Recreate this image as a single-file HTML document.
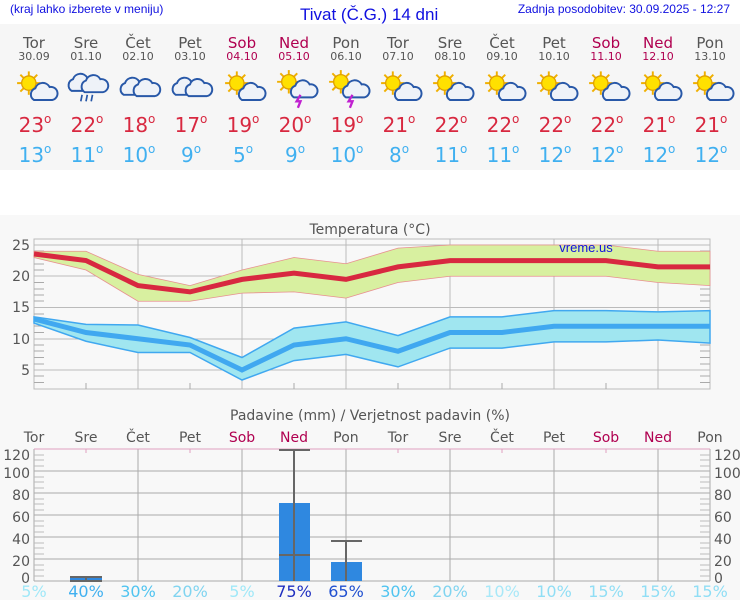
<!DOCTYPE html>
<html><head><meta charset="utf-8"><style>
body{margin:0;width:740px;height:600px;overflow:hidden;background:#fff;font-family:"DejaVu Sans","Liberation Sans",sans-serif}
</style></head><body>
<svg width="740" height="600" xmlns="http://www.w3.org/2000/svg" font-family="DejaVu Sans, Liberation Sans, sans-serif">
<defs>
<g id="sun"><g stroke="#f0b000" stroke-width="1.5"><line x1="-9" y1="0" x2="9" y2="0"/><line x1="0" y1="-9" x2="0" y2="9"/><line x1="-6.5" y1="-6.5" x2="6.5" y2="6.5"/><line x1="-6.5" y1="6.5" x2="6.5" y2="-6.5"/></g><circle r="5.5" fill="#ffe000" stroke="#e0a000"/></g>
<g id="cl"><path d="M-6 6 a5 5 0 0 1 1-9 a6 6 0 0 1 11-1 a5 5 0 0 1 2 10 z" fill="#eef2f8" stroke="#2858a8" stroke-width="1.5"/></g>
<g id="ps0"><use href="#sun" x="-4" y="-3"/><use href="#cl" x="6" y="4"/></g>
<g id="ps" transform="scale(1.3)"><use href="#ps0"/></g>
<g id="cc0"><use href="#cl" x="-5" y="0"/><use href="#cl" x="5" y="1"/></g>
<g id="cc" transform="scale(1.3)"><use href="#cc0"/></g>
<g id="ts" transform="scale(1.3)"><use href="#sun" x="-4" y="-4"/><use href="#cl" x="6" y="2"/><path d="M5 6 l-3 5 h3 l-2 5" stroke="#c020d0" stroke-width="1.8" fill="none"/></g>
<g id="rn" transform="scale(1.3)"><use href="#cc0" y="-3"/><g stroke="#2858a8" stroke-width="1.3"><line x1="-3" y1="6" x2="-4" y2="11"/><line x1="1" y1="6" x2="0" y2="11"/><line x1="5" y1="6" x2="4" y2="11"/></g></g>
</defs>
<rect x="0" y="24" width="740" height="146" fill="#f6f6f6"/>
<rect x="0" y="215" width="740" height="385" fill="#f8f8f8"/>
<text x="10" y="13" font-size="12" fill="#1010e0" font-family="Liberation Sans, sans-serif">(kraj lahko izberete v meniju)</text>
<text x="300" y="20" font-size="17" fill="#1010e0" font-family="Liberation Sans, sans-serif">Tivat (Č.G.) 14 dni</text>
<text x="730" y="13" font-size="12" fill="#1010e0" text-anchor="end" font-family="Liberation Sans, sans-serif">Zadnja posodobitev: 30.09.2025 - 12:27</text>
<g text-anchor="middle">
<g font-size="15" fill="#555">
<text x="34" y="48">Tor</text><text x="86" y="48">Sre</text><text x="138" y="48">Čet</text><text x="190" y="48">Pet</text><text x="242" y="48" fill="#b00050">Sob</text><text x="294" y="48" fill="#b00050">Ned</text><text x="346" y="48">Pon</text><text x="398" y="48">Tor</text><text x="450" y="48">Sre</text><text x="502" y="48">Čet</text><text x="554" y="48">Pet</text><text x="606" y="48" fill="#b00050">Sob</text><text x="658" y="48" fill="#b00050">Ned</text><text x="710" y="48">Pon</text>
</g>
<g font-size="11" fill="#555">
<text x="34" y="60">30.09</text><text x="86" y="60">01.10</text><text x="138" y="60">02.10</text><text x="190" y="60">03.10</text><text x="242" y="60" fill="#b00050">04.10</text><text x="294" y="60" fill="#b00050">05.10</text><text x="346" y="60">06.10</text><text x="398" y="60">07.10</text><text x="450" y="60">08.10</text><text x="502" y="60">09.10</text><text x="554" y="60">10.10</text><text x="606" y="60" fill="#b00050">11.10</text><text x="658" y="60" fill="#b00050">12.10</text><text x="710" y="60">13.10</text>
</g>
<g font-size="20" fill="#d82840">
<text x="35" y="132">23<tspan font-size="12" dy="-9">o</tspan></text><text x="87" y="132">22<tspan font-size="12" dy="-9">o</tspan></text><text x="139" y="132">18<tspan font-size="12" dy="-9">o</tspan></text><text x="191" y="132">17<tspan font-size="12" dy="-9">o</tspan></text><text x="243" y="132">19<tspan font-size="12" dy="-9">o</tspan></text><text x="295" y="132">20<tspan font-size="12" dy="-9">o</tspan></text><text x="347" y="132">19<tspan font-size="12" dy="-9">o</tspan></text><text x="399" y="132">21<tspan font-size="12" dy="-9">o</tspan></text><text x="451" y="132">22<tspan font-size="12" dy="-9">o</tspan></text><text x="503" y="132">22<tspan font-size="12" dy="-9">o</tspan></text><text x="555" y="132">22<tspan font-size="12" dy="-9">o</tspan></text><text x="607" y="132">22<tspan font-size="12" dy="-9">o</tspan></text><text x="659" y="132">21<tspan font-size="12" dy="-9">o</tspan></text><text x="711" y="132">21<tspan font-size="12" dy="-9">o</tspan></text>
</g>
<g font-size="20" fill="#40b0f0">
<text x="35" y="162">13<tspan font-size="12" dy="-9">o</tspan></text><text x="87" y="162">11<tspan font-size="12" dy="-9">o</tspan></text><text x="139" y="162">10<tspan font-size="12" dy="-9">o</tspan></text><text x="191" y="162">9<tspan font-size="12" dy="-9">o</tspan></text><text x="243" y="162">5<tspan font-size="12" dy="-9">o</tspan></text><text x="295" y="162">9<tspan font-size="12" dy="-9">o</tspan></text><text x="347" y="162">10<tspan font-size="12" dy="-9">o</tspan></text><text x="399" y="162">8<tspan font-size="12" dy="-9">o</tspan></text><text x="451" y="162">11<tspan font-size="12" dy="-9">o</tspan></text><text x="503" y="162">11<tspan font-size="12" dy="-9">o</tspan></text><text x="555" y="162">12<tspan font-size="12" dy="-9">o</tspan></text><text x="607" y="162">12<tspan font-size="12" dy="-9">o</tspan></text><text x="659" y="162">12<tspan font-size="12" dy="-9">o</tspan></text><text x="711" y="162">12<tspan font-size="12" dy="-9">o</tspan></text>
</g>
</g>
<g transform="translate(34,87)"><use href="#ps"/></g><g transform="translate(86,87)"><use href="#rn"/></g><g transform="translate(138,87)"><use href="#cc"/></g><g transform="translate(190,87)"><use href="#cc"/></g><g transform="translate(242,87)"><use href="#ps"/></g><g transform="translate(294,87)"><use href="#ts"/></g><g transform="translate(346,87)"><use href="#ts"/></g><g transform="translate(398,87)"><use href="#ps"/></g><g transform="translate(450,87)"><use href="#ps"/></g><g transform="translate(502,87)"><use href="#ps"/></g><g transform="translate(554,87)"><use href="#ps"/></g><g transform="translate(606,87)"><use href="#ps"/></g><g transform="translate(658,87)"><use href="#ps"/></g><g transform="translate(710,87)"><use href="#ps"/></g>

<!-- temperature chart -->
<text x="370" y="234" font-size="14" fill="#555" text-anchor="middle">Temperatura (°C)</text>
<g stroke="#bbb" stroke-width="1">
<line x1="34" y1="245" x2="710" y2="245"/><line x1="34" y1="276" x2="710" y2="276"/><line x1="34" y1="307.5" x2="710" y2="307.5"/><line x1="34" y1="339" x2="710" y2="339"/><line x1="34" y1="370" x2="710" y2="370"/>
<line x1="138" y1="239" x2="138" y2="389"/><line x1="242" y1="239" x2="242" y2="389"/><line x1="346" y1="239" x2="346" y2="389"/><line x1="450" y1="239" x2="450" y2="389"/><line x1="554" y1="239" x2="554" y2="389"/><line x1="658" y1="239" x2="658" y2="389"/>
</g>
<rect x="34" y="239" width="676" height="150" fill="none" stroke="#bbb"/>
<g stroke="#aaa">
<line x1="34" y1="251" x2="44" y2="251"/><line x1="34" y1="257.5" x2="44" y2="257.5"/><line x1="34" y1="264" x2="44" y2="264"/><line x1="34" y1="270" x2="44" y2="270"/><line x1="34" y1="282.5" x2="44" y2="282.5"/><line x1="34" y1="289" x2="44" y2="289"/><line x1="34" y1="295" x2="44" y2="295"/><line x1="34" y1="301" x2="44" y2="301"/><line x1="34" y1="314" x2="44" y2="314"/><line x1="34" y1="320" x2="44" y2="320"/><line x1="34" y1="326" x2="44" y2="326"/><line x1="34" y1="332.5" x2="44" y2="332.5"/><line x1="34" y1="345" x2="44" y2="345"/><line x1="34" y1="351" x2="44" y2="351"/><line x1="34" y1="357.5" x2="44" y2="357.5"/><line x1="34" y1="364" x2="44" y2="364"/><line x1="34" y1="376" x2="44" y2="376"/><line x1="34" y1="382.5" x2="44" y2="382.5"/>
<line x1="700" y1="251" x2="710" y2="251"/><line x1="700" y1="257.5" x2="710" y2="257.5"/><line x1="700" y1="264" x2="710" y2="264"/><line x1="700" y1="270" x2="710" y2="270"/><line x1="700" y1="282.5" x2="710" y2="282.5"/><line x1="700" y1="289" x2="710" y2="289"/><line x1="700" y1="295" x2="710" y2="295"/><line x1="700" y1="301" x2="710" y2="301"/><line x1="700" y1="314" x2="710" y2="314"/><line x1="700" y1="320" x2="710" y2="320"/><line x1="700" y1="326" x2="710" y2="326"/><line x1="700" y1="332.5" x2="710" y2="332.5"/><line x1="700" y1="345" x2="710" y2="345"/><line x1="700" y1="351" x2="710" y2="351"/><line x1="700" y1="357.5" x2="710" y2="357.5"/><line x1="700" y1="364" x2="710" y2="364"/><line x1="700" y1="376" x2="710" y2="376"/><line x1="700" y1="382.5" x2="710" y2="382.5"/>
<line x1="86" y1="383" x2="86" y2="389"/><line x1="190" y1="383" x2="190" y2="389"/><line x1="294" y1="383" x2="294" y2="389"/><line x1="398" y1="383" x2="398" y2="389"/><line x1="502" y1="383" x2="502" y2="389"/><line x1="606" y1="383" x2="606" y2="389"/>
</g>
<g font-size="14" fill="#555" text-anchor="end">
<text x="30" y="250">25</text><text x="30" y="281">20</text><text x="30" y="312">15</text><text x="30" y="344">10</text><text x="30" y="375">5</text>
</g>
<polygon fill="#d8f0a0" stroke="#e89090" stroke-width="0.8" points="34,251.25 86,251.25 138,274.4 190,285.6 242,270 294,257.5 346,263.75 398,248.1 450,245 502,245 554,245 606,245 658,251.25 710,251.25 710,285.6 658,282.5 606,276.25 554,276.25 502,276.25 450,276.25 398,282.5 346,298.1 294,291.9 242,293.1 190,301.25 138,301.25 86,270 34,257.5"/>
<polyline fill="none" stroke="#d82840" stroke-width="5" points="34,254 86,260.5 138,285.6 190,291.9 242,279.4 294,273.1 346,279.4 398,266.9 450,260.6 502,260.6 554,260.6 606,260.6 658,266.9 710,266.9"/>
<polygon fill="#a0e6f0" stroke="#40a8f0" stroke-width="1.5" points="34,316.9 86,324.4 138,325 190,337.5 242,357.5 294,328.1 346,321.9 398,335.6 450,316.9 502,316.9 554,310.6 606,310.6 658,311.9 710,310.6 710,343.1 658,340 606,341.9 554,341.9 502,348.1 450,348.1 398,366.9 346,354.4 294,360.6 242,380 190,352.5 138,352.5 86,341.25 34,323.1"/>
<polyline fill="none" stroke="#40a8f0" stroke-width="5" points="34,319 86,332.5 138,338.75 190,345 242,370 294,345 346,338.75 398,351.25 450,332.5 502,332.5 554,326.25 606,326.25 658,326.25 710,326.25"/>
<text x="586" y="252" font-size="13" fill="#1010e0" text-anchor="middle" font-family="Liberation Sans, sans-serif">vreme.us</text>

<!-- precipitation chart -->
<text x="370" y="420" font-size="14" fill="#555" text-anchor="middle">Padavine (mm) / Verjetnost padavin (%)</text>
<g font-size="14" fill="#555" text-anchor="middle">
<text x="34" y="442">Tor</text><text x="86" y="442">Sre</text><text x="138" y="442">Čet</text><text x="190" y="442">Pet</text><text x="242" y="442" fill="#b00050">Sob</text><text x="294" y="442" fill="#b00050">Ned</text><text x="346" y="442">Pon</text><text x="398" y="442">Tor</text><text x="450" y="442">Sre</text><text x="502" y="442">Čet</text><text x="554" y="442">Pet</text><text x="606" y="442" fill="#b00050">Sob</text><text x="658" y="442" fill="#b00050">Ned</text><text x="710" y="442">Pon</text>
</g>
<g stroke="#aaa">
<line x1="34" y1="471" x2="710" y2="471"/><line x1="34" y1="493" x2="710" y2="493"/><line x1="34" y1="515" x2="710" y2="515"/><line x1="34" y1="537" x2="710" y2="537"/><line x1="34" y1="559" x2="710" y2="559"/><line x1="34" y1="581" x2="710" y2="581"/>
<line x1="138" y1="449" x2="138" y2="581"/><line x1="242" y1="449" x2="242" y2="581"/><line x1="346" y1="449" x2="346" y2="581"/><line x1="450" y1="449" x2="450" y2="581"/><line x1="554" y1="449" x2="554" y2="581"/><line x1="658" y1="449" x2="658" y2="581"/>
<line x1="34" y1="449" x2="34" y2="581"/><line x1="710" y1="449" x2="710" y2="581"/>
</g>
<line x1="34" y1="449" x2="710" y2="449" stroke="#e0a0c0"/>
<g stroke="#e0a0c0"><line x1="86" y1="449" x2="86" y2="453"/><line x1="190" y1="449" x2="190" y2="453"/><line x1="294" y1="449" x2="294" y2="453"/><line x1="398" y1="449" x2="398" y2="453"/><line x1="502" y1="449" x2="502" y2="453"/><line x1="606" y1="449" x2="606" y2="453"/></g>
<g stroke="#bbb">
<line x1="34" y1="455" x2="44" y2="455"/><line x1="34" y1="460" x2="44" y2="460"/><line x1="34" y1="466" x2="44" y2="466"/><line x1="34" y1="477" x2="44" y2="477"/><line x1="34" y1="482" x2="44" y2="482"/><line x1="34" y1="488" x2="44" y2="488"/><line x1="34" y1="499" x2="44" y2="499"/><line x1="34" y1="504" x2="44" y2="504"/><line x1="34" y1="510" x2="44" y2="510"/><line x1="34" y1="521" x2="44" y2="521"/><line x1="34" y1="526" x2="44" y2="526"/><line x1="34" y1="532" x2="44" y2="532"/><line x1="34" y1="543" x2="44" y2="543"/><line x1="34" y1="548" x2="44" y2="548"/><line x1="34" y1="554" x2="44" y2="554"/><line x1="34" y1="565" x2="44" y2="565"/><line x1="34" y1="570" x2="44" y2="570"/><line x1="34" y1="576" x2="44" y2="576"/>
<line x1="700" y1="455" x2="710" y2="455"/><line x1="700" y1="460" x2="710" y2="460"/><line x1="700" y1="466" x2="710" y2="466"/><line x1="700" y1="477" x2="710" y2="477"/><line x1="700" y1="482" x2="710" y2="482"/><line x1="700" y1="488" x2="710" y2="488"/><line x1="700" y1="499" x2="710" y2="499"/><line x1="700" y1="504" x2="710" y2="504"/><line x1="700" y1="510" x2="710" y2="510"/><line x1="700" y1="521" x2="710" y2="521"/><line x1="700" y1="526" x2="710" y2="526"/><line x1="700" y1="532" x2="710" y2="532"/><line x1="700" y1="543" x2="710" y2="543"/><line x1="700" y1="548" x2="710" y2="548"/><line x1="700" y1="554" x2="710" y2="554"/><line x1="700" y1="565" x2="710" y2="565"/><line x1="700" y1="570" x2="710" y2="570"/><line x1="700" y1="576" x2="710" y2="576"/>
</g>
<g font-size="14" fill="#555" text-anchor="end">
<text x="30" y="460">120</text><text x="30" y="478">100</text><text x="30" y="500">80</text><text x="30" y="522">60</text><text x="30" y="544">40</text><text x="30" y="566">20</text><text x="30" y="583">0</text>
</g>
<g font-size="14" fill="#555" text-anchor="start">
<text x="714" y="460">120</text><text x="714" y="478">100</text><text x="714" y="500">80</text><text x="714" y="522">60</text><text x="714" y="544">40</text><text x="714" y="566">20</text><text x="714" y="583">0</text>
</g>
<rect x="70" y="578" width="32" height="3" fill="#2f88e0"/>
<rect x="279" y="503" width="31" height="78" fill="#2f88e0"/>
<rect x="331" y="562" width="31" height="19" fill="#2f88e0"/>
<g stroke="#666" stroke-width="2">
<line x1="70" y1="577" x2="102" y2="577"/><line x1="70" y1="581" x2="102" y2="581"/><line x1="86" y1="577" x2="86" y2="581"/>
<line x1="279" y1="450" x2="310" y2="450"/><line x1="279" y1="555" x2="310" y2="555"/><line x1="294" y1="450" x2="294" y2="581"/>
<line x1="331" y1="541" x2="362" y2="541"/><line x1="346" y1="541" x2="346" y2="581"/>
</g>
<g font-size="16" text-anchor="middle">
<text x="34" y="597" fill="#a0e8f8">5%</text><text x="86" y="597" fill="#40b0f0">40%</text><text x="138" y="597" fill="#50c4f0">30%</text><text x="190" y="597" fill="#80d4f0">20%</text><text x="242" y="597" fill="#a0e8f8">5%</text><text x="294" y="597" fill="#2030c0">75%</text><text x="346" y="597" fill="#2050d0">65%</text><text x="398" y="597" fill="#50c4f0">30%</text><text x="450" y="597" fill="#80d4f0">20%</text><text x="502" y="597" fill="#a8e8f8">10%</text><text x="554" y="597" fill="#90def5">10%</text><text x="606" y="597" fill="#90def5">15%</text><text x="658" y="597" fill="#90def5">15%</text><text x="710" y="597" fill="#90def5">15%</text>
</g>
</svg>
</body></html>
